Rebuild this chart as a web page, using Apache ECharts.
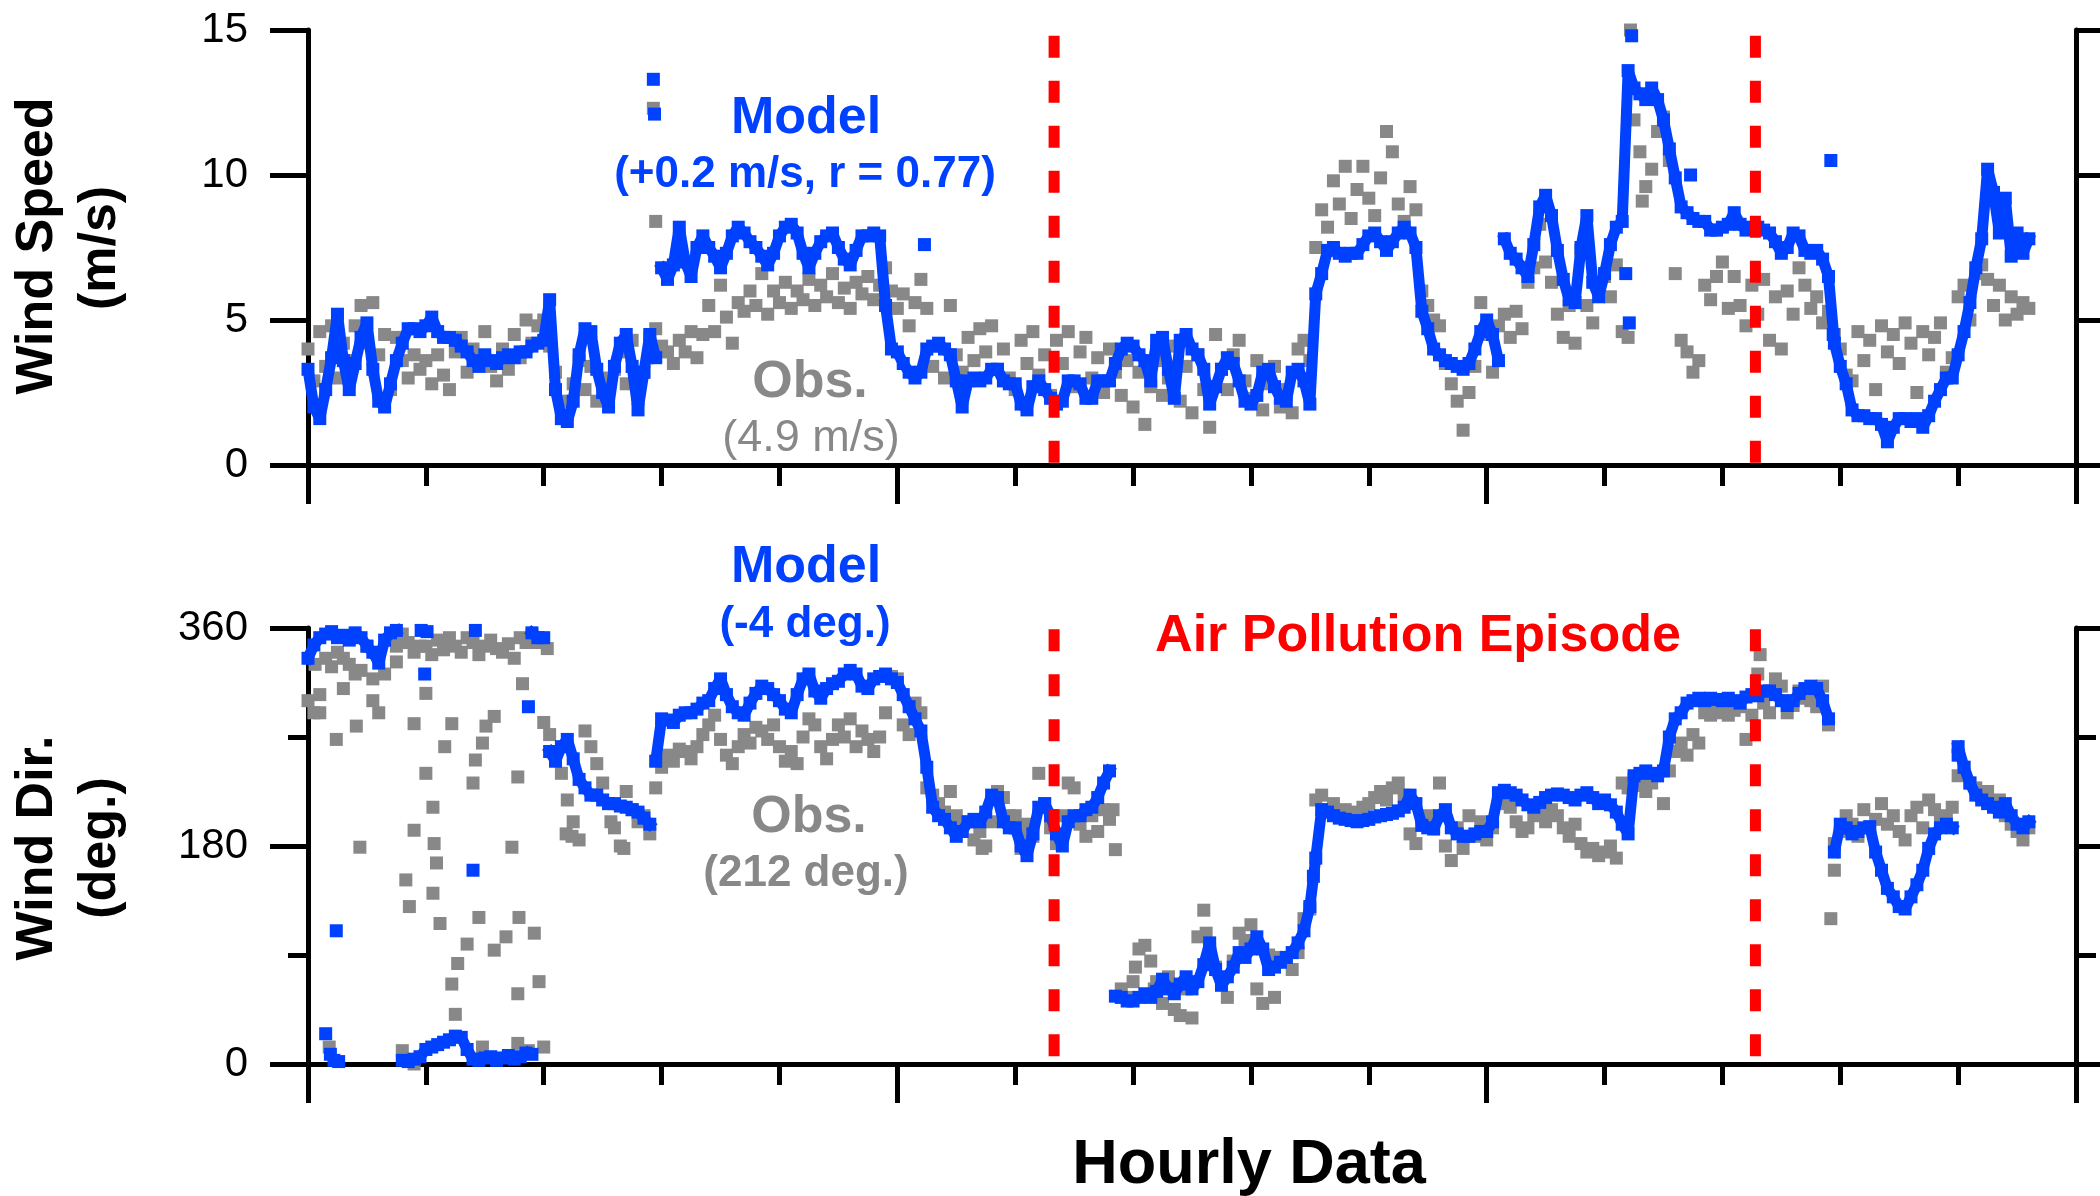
<!DOCTYPE html>
<html>
<head>
<meta charset="utf-8">
<script src="https://cdn.jsdelivr.net/npm/echarts/dist/echarts.min.js"></script>
<style>
  html, body { margin: 0; padding: 0; background: #fff; }
  #chart { width: 2100px; height: 1196px; }
</style>
</head>
<body>
<div id="chart"></div>
<script>
// hourly samples, one value every STEP units along the x axis (0..146)
const STEP = 0.5

// wind speed (m/s), model
const windSpeedModel = [
  3.3, 2.0, 1.6, 2.6, 3.7, 5.2, 3.6, 2.6, 3.5, 4.4, 4.9, 3.3, 2.2, 2.0, 2.8, 3.6, 4.2, 4.7, 4.7, 4.6,
  4.8, 5.1, 4.6, 4.4, 4.4, 4.3, 4.1, 3.9, 3.6, 3.4, 3.8, 3.6, 3.5, 3.7, 3.8, 3.7, 3.9, 3.9, 4.1, 4.2,
  4.3, 5.7, 2.6, 1.6, 1.5, 2.2, 3.8, 4.7, 4.6, 3.3, 2.5, 2.0, 3.4, 4.2, 4.5, 3.4, 1.9, 3.2, 4.5, 3.7,
  6.8, 6.4, 6.9, 8.2, 7.0, 6.5, 7.5, 7.9, 7.5, 7.2, 6.8, 7.3, 7.9, 8.2, 8.0, 7.7, 7.5, 7.2, 6.9, 7.3,
  7.9, 8.2, 8.3, 8.0, 7.3, 6.8, 7.3, 7.7, 7.9, 8.0, 7.5, 7.1, 6.9, 7.4, 7.9, 7.9, 8.0, 7.9, 5.5, 4.0,
  3.9, 3.5, 3.2, 3.0, 3.2, 4.0, 4.1, 4.2, 4.0, 3.8, 2.9, 2.0, 2.9, 3.0, 2.9, 3.0, 3.3, 3.3, 2.9, 2.8,
  2.8, 2.1, 1.9, 2.7, 2.9, 2.6, 2.3, 2.1, 2.2, 2.9, 2.9, 2.8, 2.3, 2.3, 2.9, 2.9, 2.9, 3.5, 4.0, 4.2,
  4.1, 3.8, 3.6, 2.9, 4.3, 4.4, 3.3, 2.3, 4.3, 4.5, 4.0, 3.8, 3.3, 2.1, 2.7, 3.3, 3.7, 3.5, 2.9, 2.2,
  2.1, 2.4, 3.2, 3.3, 2.7, 2.3, 2.2, 3.2, 3.3, 2.9, 2.1, 5.9, 6.6, 7.4, 7.5, 7.3, 7.2, 7.3, 7.3, 7.6,
  7.9, 8.0, 7.7, 7.4, 7.7, 8.0, 8.2, 8.0, 7.5, 5.3, 4.7, 4.0, 3.8, 3.6, 3.5, 3.4, 3.3, 3.5, 4.0, 4.6,
  5.0, 4.5, 3.6, 7.8, 7.3, 7.1, 6.8, 6.5, 7.6, 8.9, 9.3, 8.6, 7.4, 6.4, 5.7, 5.6, 7.5, 8.6, 6.3, 5.8,
  6.6, 7.6, 8.2, 8.4, 13.6, 13.0, 12.8, 12.6, 13.0, 12.6, 11.9, 10.9, 9.9, 8.9, 8.7, 8.5, 8.4, 8.4, 8.1, 8.1,
  8.2, 8.3, 8.7, 8.3, 8.1, 8.2, 8.2, 8.1, 8.0, 7.7, 7.3, 7.5, 8.0, 7.9, 7.4, 7.3, 7.4, 7.1, 6.5, 4.2,
  3.4, 2.8, 1.9, 1.7, 1.7, 1.6, 1.6, 1.4, 0.8, 1.3, 1.6, 1.6, 1.5, 1.6, 1.3, 1.7, 2.2, 2.6, 3.0, 3.0,
  3.8, 4.6, 5.6, 6.8, 7.8, 10.2, 9.4, 8.0, 9.2, 7.2, 8.0, 7.3, 7.8
]
// stray model points that sit off the main trace: [x, m/s]
const windSpeedModelExtra = [
  [29.3, 13.3], [29.4, 12.1], [52.3, 7.6], [111.8, 6.6], [112.1, 4.9],
  [112.3, 14.8], [117.3, 10.0], [129.2, 10.5], [129.4, 4.5]
]
// x where the model trace restarts (no joining stroke before it)
const windSpeedModelBreaks = [30, 101.5]

// wind speed (m/s), observed
const windSpeedObs = [
  4.0, 2.9, 4.6, 3.4, 4.8, 3.0, 4.2, 3.6, 4.8, 5.5, 4.2, 5.6, 3.8, 4.5, 2.6, 4.4, 3.6, 3.0, 3.8, 3.3,
  3.6, 2.8, 3.8, 3.1, 2.6, 3.9, 4.4, 3.2, 4.0, 3.5, 4.6, 3.4, 2.9, 4.0, 3.3, 4.5, 3.7, 5.0, 4.2, 4.8,
  5.0, 4.1, 3.2, 1.6, 2.2, 2.8, 3.6, 2.6, 3.4, 2.2, 3.0, 2.4, 3.3, 3.9, 2.8, 4.3, 2.3, 3.2, 4.4, 4.7,
  4.1, 3.9, 3.5, 4.3, 3.9, 4.6, 3.7, 4.5, 5.5, 4.6, 6.2, 5.1, 4.2, 5.6, 5.3, 6.0, 5.5, 6.6, 5.2, 6.0,
  5.6, 6.3, 5.4, 6.0, 5.7, 6.4, 5.5, 6.2, 5.8, 6.6, 5.6, 6.1, 5.4, 6.3, 5.9, 6.5, 5.7, 6.2, 6.8, 6.0,
  5.4, 5.9, 4.8, 5.6, 6.4, 5.4, 3.4, 4.1, 3.0, 5.5, 3.8, 3.2, 4.4, 3.6, 4.7, 3.9, 4.8, 3.3, 4.0, 3.0,
  2.6, 4.3, 3.5, 4.6, 3.1, 3.8, 2.4, 4.3, 3.5, 4.6, 2.7, 3.9, 4.4, 3.0, 3.7, 2.5, 4.0, 3.2, 2.4, 3.6,
  2.0, 3.2, 1.4, 2.7, 3.6, 2.4, 3.0, 4.1, 2.2, 3.4, 1.8, 3.8, 2.6, 1.3, 4.5, 3.3, 2.6, 3.8, 4.3, 2.9,
  2.3, 3.6, 1.9, 2.8, 3.4, 2.0, 2.6, 1.8, 4.0, 4.3, 3.6, 7.5, 8.8, 8.2, 9.8, 9.0, 10.3, 8.5, 9.5, 10.3,
  9.2, 8.6, 9.9, 11.5, 10.8, 9.0, 8.4, 9.6, 8.8, 6.0, 5.5, 5.0, 4.8, 3.5, 2.8, 2.2, 1.2, 2.5, 3.4, 5.6,
  4.5, 3.2, 4.8, 5.2, 4.4, 5.3, 4.7, 6.3, 6.8, 8.3, 7.0, 6.3, 5.2, 4.4, 5.5, 4.2, 7.4, 5.5, 4.9, 6.2,
  6.5, 5.8, 6.9, 4.6, 4.4, 11.9, 10.8, 9.6, 10.2, 11.5, 12.0, 10.5, 6.6, 4.3, 3.9, 3.2, 3.6, 6.2, 5.7, 6.5,
  7.0, 5.4, 6.5, 5.5, 4.8, 6.2, 5.2, 6.4, 4.3, 5.8, 4.0, 6.0, 5.2, 6.8, 6.2, 5.4, 5.8, 4.9, 5.3, 4.5,
  4.0, 3.1, 2.9, 4.6, 3.6, 4.3, 2.6, 4.8, 3.9, 4.5, 3.5, 4.9, 4.2, 2.5, 4.6, 3.8, 4.4, 4.9, 3.2, 3.7,
  5.8, 6.2, 5.0, 6.6, 6.9, 6.4, 5.5, 6.2, 5.0, 5.8, 5.2, 5.6, 5.4
]
const windSpeedObsExtra = [[29.3, 12.3], [29.5, 8.4], [112.2, 15.0], [113.2, 9.1]]

// wind direction (deg.), model
const windDirModel = [
  335, 346, 352, 355, 357, 352, 354, 350, 356, 352, 345, 340, 331, 350, 356, 358, 3, 2, 4, 6,
  12, 14, 16, 18, 20, 23, 22, 12, 4, 3, 5, 6, 3, 5, 7, 4, 6, 9, 356, 352,
  352, 258, 250, 262, 268, 252, 235, 228, 222, 222, 218, 215, 215, 213, 212, 210, 208, 203, 198, 250,
  285, 284, 282, 288, 290, 290, 293, 298, 300, 310, 318, 305, 295, 290, 288, 298, 306, 312, 310, 305,
  300, 293, 290, 305, 318, 322, 308, 302, 310, 314, 316, 322, 325, 322, 312, 310, 318, 320, 322, 318,
  315, 305, 295, 285, 275, 245, 212, 205, 202, 195, 188, 192, 200, 202, 200, 208, 222, 220, 200, 195,
  195, 180, 172, 190, 212, 215, 205, 190, 180, 200, 205, 205, 210, 212, 220, 232, 242, 56, 55, 52,
  52, 55, 58, 55, 60, 70, 62, 58, 66, 72, 62, 68, 82, 100, 78, 65, 72, 80, 92, 88,
  95, 105, 95, 78, 80, 84, 88, 92, 100, 110, 130, 170, 210, 208, 205, 203, 202, 201, 200, 201,
  202, 204, 205, 206, 207, 209, 212, 222, 215, 197, 195, 194, 205, 210, 195, 190, 188, 188, 190, 192,
  192, 200, 224, 226, 224, 222, 218, 214, 212, 216, 220, 222, 223, 222, 220, 218, 222, 224, 220, 215,
  218, 214, 208, 198, 190, 238, 240, 242, 240, 238, 242, 270, 285, 290, 298, 300, 302, 300, 302, 301,
  300, 302, 300, 298, 303, 305, 304, 308, 308, 305, 300, 296, 300, 306, 310, 312, 310, 300, 285, 175,
  198, 195, 190, 192, 195, 196, 175, 160, 145, 138, 130, 128, 138, 148, 160, 178, 190, 195, 198, 195,
  262, 245, 232, 222, 218, 215, 212, 208, 215, 205, 198, 195, 200
]
const windDirModelExtra = [
  [1.5, 25], [1.9, 8], [2.2, 3], [2.6, 2], [2.4, 110], [9.6, 358], [10.1, 357], [9.9, 322],
  [14.0, 160], [14.2, 358], [18.7, 295], [19.0, 8], [85.3, 155], [140.0, 255]
]
const windDirModelBreaks = [8, 19, 20.5, 29.5, 68.5, 129.5, 140]

// wind direction (deg.), observed
const windDirObs = [
  300, 290, 305, 335, 328, 340, 335, 330, 322, 325, 345, 318, 338, 322, 350, 332, 355, 348, 340, 345,
  345, 338, 350, 342, 352, 345, 340, 352, 348, 338, 345, 350, 343, 340, 347, 335, 352, 348, 354, 348,
  282, 272, 258, 240, 218, 200, 185, 275, 262, 248, 232, 215, 195, 180, 225, 210, 200, 205, 190, 228,
  245, 255, 250, 260, 258, 252, 262, 272, 280, 288, 268, 255, 248, 262, 272, 265, 278, 275, 268, 280,
  262, 250, 258, 248, 270, 285, 280, 262, 252, 268, 280, 270, 285, 262, 275, 268, 258, 270, 290, 320,
  318, 280, 272, 298, 290, 228, 222, 215, 208, 225, 205, 195, 200, 185, 192, 180, 200, 225, 220, 205,
  205, 190, 198, 188, 240, 215, 195, 182, 205, 232, 228, 198, 188, 205, 192, 210, 202, 177, 62, 55,
  68, 95, 98, 85, 68, 50, 72, 45, 40, 62, 38, 105, 127, 95, 80, 70, 55, 85, 108, 102,
  115, 62, 50, 90, 55, 88, 85, 78, 92, 120, 128, 218, 222, 210, 215, 205, 210, 202, 208, 212,
  215, 220, 225, 218, 228, 232, 222, 190, 182, 200, 205, 196, 232, 180, 168, 195, 178, 205, 188, 200,
  185, 195, 215, 218, 212, 200, 192, 195, 205, 208, 200, 210, 205, 195, 188, 198, 182, 175, 178, 172,
  175, 180, 170, 232, 228, 235, 230, 225, 232, 238, 215, 242, 258, 265, 255, 272, 265, 290, 288, 292,
  290, 288, 292, 295, 268, 288, 322, 298, 290, 318, 312, 290, 296, 308, 302, 300, 295, 312, 280, 182,
  192, 205, 198, 188, 210, 195, 202, 215, 198, 205, 192, 185, 205, 212, 195, 218, 210, 200, 205, 212,
  238, 245, 232, 228, 222, 225, 215, 218, 205, 198, 192, 185, 195
]
// the scattered calm-wind readings at the start, plus a few strays
const windDirObsExtra = [
  [0.6, 330], [1.0, 290], [1.8, 14], [2.4, 268], [3.0, 310], [4.1, 279], [4.4, 179], [5.5, 300],
  [6.0, 290], [7.5, 345], [8.0, 11], [8.3, 152], [8.6, 130], [9.0, 281], [9.0, 193], [9.0, 0],
  [10.0, 240], [10.0, 306], [10.6, 212], [10.7, 182], [10.9, 166], [10.6, 141], [11.2, 116],
  [11.6, 262], [12.2, 281], [12.2, 66], [12.5, 41], [12.7, 83], [13.5, 99], [14.0, 232],
  [14.2, 251], [14.5, 121], [14.8, 265], [14.8, 14], [15.1, 279], [15.8, 287], [15.8, 94],
  [16.8, 105], [17.3, 179], [17.8, 237], [17.9, 121], [17.8, 58], [18.2, 314], [17.8, 17],
  [18.7, 11], [19.2, 108], [19.6, 68], [20.0, 14], [20.3, 343], [21.9, 190], [22.4, 188],
  [25.7, 200], [26.8, 178], [57.2, 178], [60.5, 178], [68.3, 210], [70.2, 80], [71.8, 62],
  [76.2, 108], [123.2, 338], [129.2, 120], [129.5, 160]
]

// start and end of the air pollution episode, on the hourly axis
const episodeBounds = [63.3, 122.8]

const BLUE = '#0040ff'
const GRAY = '#888888'
const RED = '#ff0000'
const FONT = '"Liberation Sans", Arial, Helvetica, sans-serif'

const toPairs = vals => vals.map((v, i) => [i * STEP, v])

// same points, with an empty sample in front of each restart so the stroke breaks there
const toTrace = (vals, breaks) => {
  const out = []
  vals.forEach((v, i) => {
    const x = i * STEP
    if (breaks.includes(x)) out.push([x - STEP / 2, '-'])
    out.push([x, v])
  })
  return out
}

const axisLine = { color: '#000', width: 5 }

const makeXAxis = gridIndex => ({
  gridIndex,
  type: 'value',
  min: 0,
  max: 150,
  interval: 50,
  axisLine: { show: true, onZero: false, lineStyle: axisLine },
  axisTick: { show: true, length: 39, lineStyle: axisLine },
  minorTick: { show: true, splitNumber: 5, length: 21, lineStyle: axisLine },
  axisLabel: { show: false },
  splitLine: { show: false },
  minorSplitLine: { show: false }
})

const makeYAxis = (gridIndex, max, interval, minorSplit, position) => ({
  gridIndex,
  type: 'value',
  position,
  min: 0,
  max,
  interval,
  axisLine: { show: true, onZero: false, lineStyle: axisLine },
  axisTick: { show: true, length: 38, lineStyle: axisLine },
  minorTick: { show: minorSplit > 0, splitNumber: minorSplit || 5, length: 20, lineStyle: axisLine },
  axisLabel: {
    show: position === 'left',
    fontSize: 42,
    fontFamily: FONT,
    color: '#000',
    margin: 60
  },
  splitLine: { show: false },
  minorSplitLine: { show: false }
})

const scatter = (name, color, data, xAxisIndex, yAxisIndex) => ({
  name,
  type: 'scatter',
  xAxisIndex,
  yAxisIndex,
  symbol: 'rect',
  symbolSize: 13,
  itemStyle: { color, opacity: 1 },
  data,
  z: color === BLUE ? 3 : 2
})

// thick stroke under the model squares, hourly data is dense enough to read as a band
const trace = (data, xAxisIndex, yAxisIndex) => ({
  type: 'line',
  xAxisIndex,
  yAxisIndex,
  data,
  showSymbol: false,
  symbol: 'none',
  silent: true,
  connectNulls: false,
  lineStyle: { color: BLUE, width: 11, join: 'bevel', cap: 'square' },
  z: 3
})

const episodeLine = (x, top, xAxisIndex, yAxisIndex) => ({
  type: 'line',
  xAxisIndex,
  yAxisIndex,
  data: [[x, top], [x, 0]],
  showSymbol: false,
  symbol: 'none',
  silent: true,
  lineStyle: { color: RED, width: 11, type: [22, 23] },
  z: 5
})

const label = (text, x, y, size, color, weight, rotation) => ({
  type: 'text',
  x,
  y,
  rotation: rotation || 0,
  z: 100,
  style: {
    text,
    fill: color,
    font: `${weight} ${size}px ${FONT}`,
    align: 'center',
    verticalAlign: 'middle'
  }
})

const chart = echarts.init(document.getElementById('chart'), null, { renderer: 'canvas' })

chart.setOption({
  animation: false,
  backgroundColor: '#fff',
  grid: [
    { left: 308, right: 24, top: 30, bottom: 731 },
    { left: 308, right: 24, top: 628, bottom: 132 }
  ],
  xAxis: [makeXAxis(0), makeXAxis(1)],
  yAxis: [
    makeYAxis(0, 15, 5, 0, 'left'),
    makeYAxis(0, 15, 5, 0, 'right'),
    makeYAxis(1, 360, 180, 2, 'left'),
    makeYAxis(1, 360, 180, 2, 'right')
  ],
  series: [
    scatter('Obs.', GRAY, toPairs(windSpeedObs).concat(windSpeedObsExtra), 0, 0),
    trace(toTrace(windSpeedModel, windSpeedModelBreaks), 0, 0),
    scatter('Model', BLUE, toPairs(windSpeedModel).concat(windSpeedModelExtra), 0, 0),
    scatter('Obs.', GRAY, toPairs(windDirObs).concat(windDirObsExtra), 1, 2),
    trace(toTrace(windDirModel, windDirModelBreaks), 1, 2),
    scatter('Model', BLUE, toPairs(windDirModel).concat(windDirModelExtra), 1, 2),
    episodeLine(episodeBounds[0], 14.8, 0, 0),
    episodeLine(episodeBounds[1], 14.8, 0, 0),
    episodeLine(episodeBounds[0], 359, 1, 2),
    episodeLine(episodeBounds[1], 359, 1, 2)
  ],
  graphic: [
    label('Model', 806, 119, 52, BLUE, 'bold'),
    label('(+0.2 m/s, r = 0.77)', 805, 175, 44, BLUE, 'bold'),
    label('Obs.', 810, 383, 52, GRAY, 'bold'),
    label('(4.9 m/s)', 811, 439, 45, GRAY, 'normal'),
    label('Model', 806, 568, 52, BLUE, 'bold'),
    label('(-4 deg.)', 805, 625, 44, BLUE, 'bold'),
    label('Obs.', 809, 818, 52, GRAY, 'bold'),
    label('(212 deg.)', 806, 874, 44, GRAY, 'bold'),
    label('Air Pollution Episode', 1418, 637, 52, RED, 'bold'),
    label('Hourly Data', 1249, 1166, 63, '#000', 'bold'),
    label('Wind Speed', 38, 246, 52, '#000', 'bold', Math.PI / 2),
    label('(m/s)', 101, 248, 52, '#000', 'bold', Math.PI / 2),
    label('Wind Dir.', 38, 848, 52, '#000', 'bold', Math.PI / 2),
    label('(deg.)', 101, 848, 52, '#000', 'bold', Math.PI / 2)
  ]
})

window.addEventListener('resize', () => chart.resize())
</script>
</body>
</html>
